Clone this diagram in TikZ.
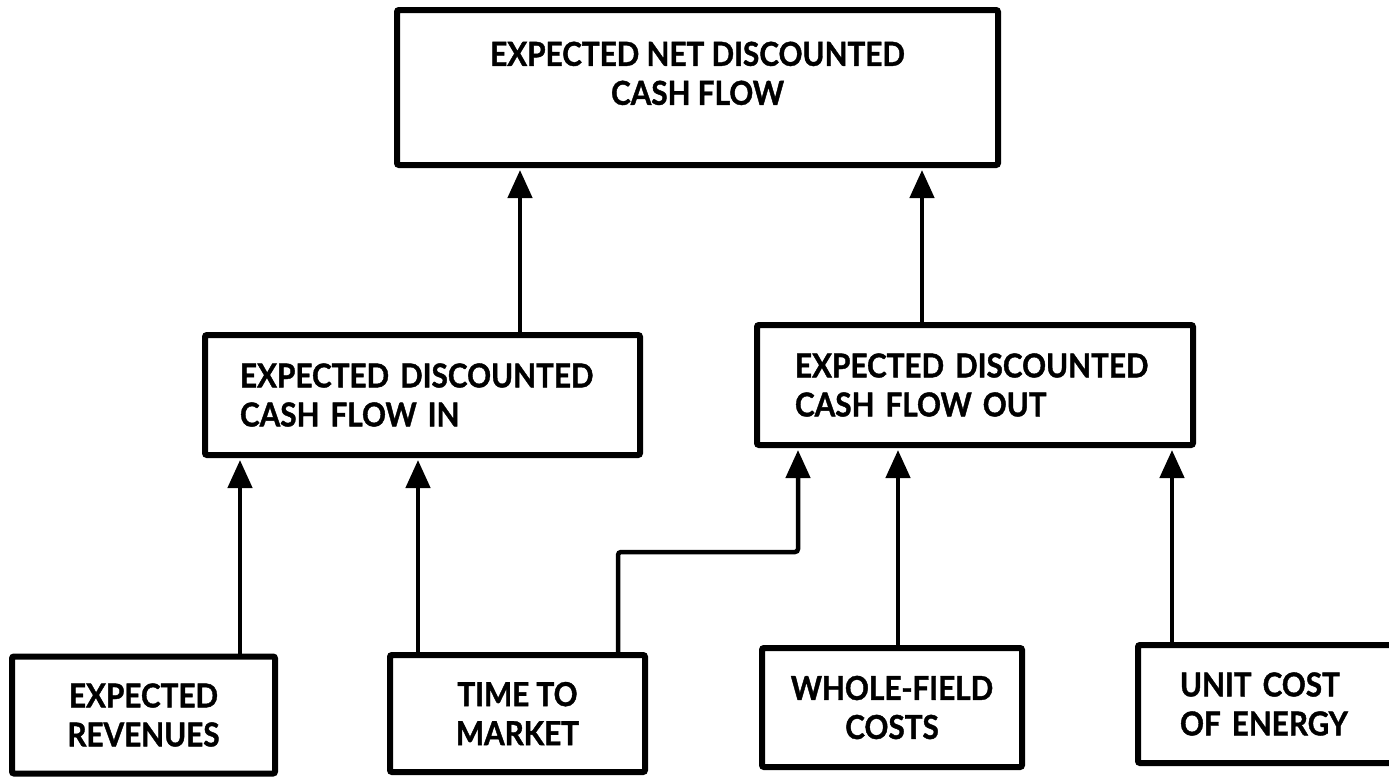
\documentclass[tikz,border=0pt]{standalone}
\usepackage{fontspec}
\setmainfont{Lato}[FakeStretch=0.9, BoldFeatures={FakeBold=1.2}]
\usetikzlibrary{arrows.meta}
\begin{document}
\begin{tikzpicture}[x=1pt,y=-1pt,
  box/.style={draw, line width=6pt, rounded corners=2pt, inner sep=0pt,
    font=\bfseries\fontsize{33}{39}\selectfont},
  link/.style={line width=4.5pt, shorten >=2pt, -{Triangle[width=24pt,length=28pt]}}]
\useasboundingbox (0,0) rectangle (1389,777);
% top
\node[box, minimum width=601pt, minimum height=155pt, align=center] (top) at (697.5,87.5)
  {\raisebox{10pt}[\height][\depth]{\begin{tabular}{@{}c@{}}EXPECTED NET DISCOUNTED\\CASH FLOW\end{tabular}}};
% middle
\node[box, minimum height=120pt, text width=365pt, inner xsep=35pt, align=left] (ml) at (422.5,395)
  {EXPECTED DISCOUNTED\\CASH FLOW IN};
\node[box, minimum height=120pt, text width=360pt, inner xsep=38pt, align=left] (mr) at (975,385)
  {EXPECTED DISCOUNTED\\CASH FLOW OUT};
% bottom
\node[box, minimum width=263pt, minimum height=117pt, align=center] (rev) at (143.5,715)
  {EXPECTED\\REVENUES};
\node[box, minimum width=255pt, minimum height=117pt, align=center] (ttm) at (517.5,713.5)
  {TIME TO\\MARKET};
\node[box, minimum width=260pt, minimum height=119pt, align=center] (wf) at (892,707.5)
  {WHOLE-FIELD\\COSTS};
\node[box, minimum height=118pt, text width=190pt, inner xsep=42pt, align=left] (uc) at (1275,704)
  {UNIT COST\\OF ENERGY};
% connectors
\draw[link] ([xshift=96.5pt]rev.north) -- ([xshift=96.5pt]rev.north |- ml.south);
\draw[link] ([xshift=-99.5pt]ttm.north) -- ([xshift=-99.5pt]ttm.north |- ml.south);
\coordinate (bend) at (618,552);
\draw[link, rounded corners=3pt] ([xshift=100.5pt]ttm.north) -- (bend) -- ++(180,0) -- ([xshift=-177pt]mr.south);
\draw[link] ([xshift=6pt]wf.north) -- ([xshift=6pt]wf.north |- mr.south);
\draw[link] ([xshift=-103pt]uc.north) -- ([xshift=-103pt]uc.north |- mr.south);
\draw[link] ([xshift=97.5pt]ml.north) -- ([xshift=97.5pt]ml.north |- top.south);
\draw[link] ([xshift=-53pt]mr.north) -- ([xshift=-53pt]mr.north |- top.south);
\end{tikzpicture}
\end{document}
